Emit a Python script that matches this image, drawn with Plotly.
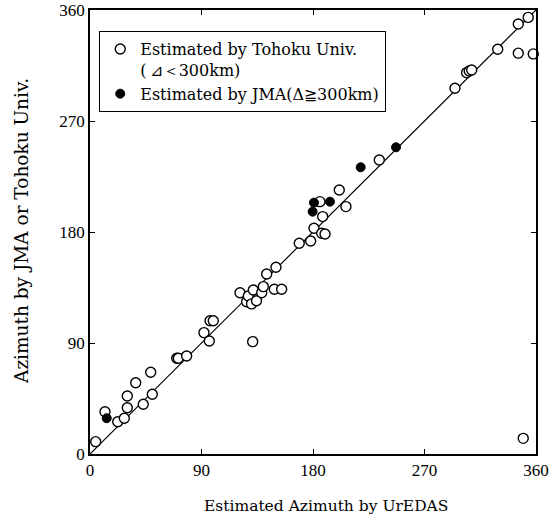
import plotly.graph_objects as go

# Azimuth estimates (degrees): UrEDAS estimate vs. reference azimuth
tohoku_x = [4.6, 12.1, 22.4, 27.7, 30.1, 30.1, 36.9, 43.0, 49.0, 50.3,
            70.0, 71.3, 78.0, 92.0, 96.3, 96.9, 99.5, 131.3, 121.1, 126.4,
            127.8, 130.4, 131.8, 134.4, 138.6, 139.9, 142.6, 150.1, 148.8, 154.7,
            168.9, 178.1, 180.8, 187.0, 189.7, 187.8, 185.6, 201.2, 206.6, 233.5,
            294.6, 304.0, 306.1, 308.1, 329.1, 345.7, 353.7, 345.7, 357.8, 349.7]
tohoku_y = [10.0, 34.3, 26.2, 29.0, 37.5, 47.0, 57.8, 40.3, 66.3, 48.4,
            77.6, 77.6, 79.5, 98.4, 91.6, 108.1, 108.1, 91.1, 130.8, 123.5,
            128.1, 121.7, 133.0, 124.3, 130.8, 135.7, 146.0, 151.4, 133.6, 133.6,
            170.9, 172.7, 183.0, 179.0, 178.4, 192.5, 204.6, 214.1, 200.6, 238.4,
            296.6, 309.2, 310.6, 311.4, 328.2, 348.7, 354.0, 325.0, 324.4, 12.7]

jma_x = [13.5, 180.8, 179.7, 193.7, 218.5, 247.0]
jma_y = [29.0, 203.8, 196.5, 204.6, 232.5, 248.7]

diag = [0, 360]
tick_vals = [0, 90, 180, 270, 360]

x_title = "Estimated Azimuth by UrEDAS"
y_title = "Azimuth by JMA or Tohoku Univ."

fig = go.Figure()

# 1:1 reference line
fig.add_trace(go.Scatter(
    x=diag, y=diag, mode="lines",
    line=dict(color="black", width=1.2),
    showlegend=False, hoverinfo="skip",
))

fig.add_trace(go.Scatter(
    x=tohoku_x, y=tohoku_y, mode="markers",
    name="Estimated by Tohoku Univ.<br>(\u2009\u22bf\uff1c300km)",
    marker=dict(symbol="circle", size=10, color="white",
                line=dict(color="black", width=1.4)),
    cliponaxis=False,
))

fig.add_trace(go.Scatter(
    x=jma_x, y=jma_y, mode="markers",
    name="Estimated by JMA(\u0394\u2267300km)",
    marker=dict(symbol="circle", size=9, color="black",
                line=dict(color="black", width=1)),
    cliponaxis=False,
))

axis_common = dict(
    range=[0, 360],
    tickvals=tick_vals,
    ticks="inside",
    ticklen=5,
    tickwidth=1.3,
    tickcolor="black",
    showline=True,
    linecolor="black",
    linewidth=1.6,
    mirror="ticks",
    showgrid=False,
    zeroline=False,
    automargin=False,
    tickfont=dict(family="Liberation Serif", size=17, color="black"),
)

fig.update_xaxes(**axis_common)
fig.update_yaxes(**axis_common)

title_font = dict(family="DejaVu Serif", color="black")

fig.add_annotation(
    text=x_title, xref="paper", yref="paper",
    x=0.53, y=-0.118, xanchor="center", yanchor="middle",
    showarrow=False, font=dict(size=15.5, **title_font),
)
fig.add_annotation(
    text=y_title, xref="paper", yref="paper",
    x=-0.155, y=0.502, xanchor="center", yanchor="middle",
    textangle=-90, showarrow=False, font=dict(size=18.5, **title_font),
)

fig.update_layout(
    width=553, height=526,
    margin=dict(l=90, r=17, t=10, b=72),
    paper_bgcolor="white",
    plot_bgcolor="white",
    showlegend=True,
    legend=dict(
        x=0.02, y=0.953, xanchor="left", yanchor="top",
        bgcolor="white", bordercolor="black", borderwidth=1.3,
        font=dict(family="DejaVu Serif", size=16, color="black"),
        valign="top",
        tracegroupgap=0,
        itemwidth=30,
    ),
)

fig.write_html("out.html")
